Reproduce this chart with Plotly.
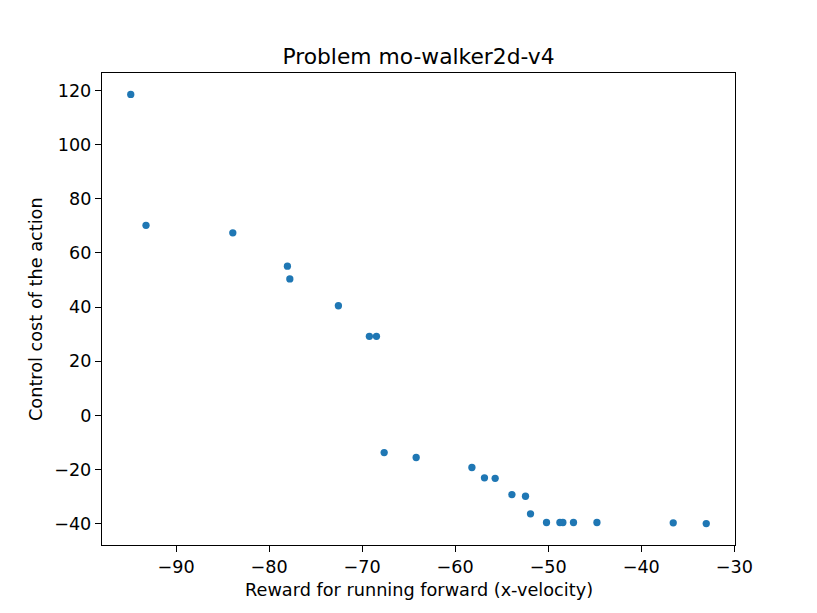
import plotly.graph_objects as go

reward_forward = [-94.87, -93.23, -83.90, -78.03, -77.77, -72.55, -69.22, -68.46,
                  -67.63, -64.19, -58.20, -56.85, -55.70, -53.90, -52.44, -51.90,
                  -50.18, -48.74, -48.42, -47.28, -44.76, -36.56, -33.01]
control_cost = [118.5, 70.2, 67.4, 55.1, 50.4, 40.5, 29.2, 29.2,
                -13.7, -15.5, -19.2, -23.0, -23.2, -29.2, -29.8, -36.3,
                -39.5, -39.5, -39.5, -39.5, -39.5, -39.6, -39.9]

x_tick_vals = [-90, -80, -70, -60, -50, -40, -30]
x_tick_text = ["\u221290", "\u221280", "\u221270", "\u221260", "\u221250", "\u221240", "\u221230"]
y_tick_vals = [-40, -20, 0, 20, 40, 60, 80, 100, 120]
y_tick_text = ["\u221240", "\u221220", "0", "20", "40", "60", "80", "100", "120"]

# page has an 8px body margin; figure coordinates are page coordinates minus 8
W, H = 809, 605
L, R, T, B = 94, 727, 65, 537
FONT = "DejaVu Sans"

fig = go.Figure(go.Scatter(
    x=reward_forward, y=control_cost, mode="markers",
    marker=dict(color="#1f77b4", size=7.3, line=dict(width=0)),
))

axis_common = dict(
    showgrid=False, zeroline=False, showline=True, linecolor="black", linewidth=1.3,
    mirror=True, ticks="outside", ticklen=6, tickwidth=1.3, tickcolor="black",
    tickfont=dict(family=FONT, size=17.6, color="black"),
)

pw, ph = R - L, B - T
fig.update_layout(
    width=W, height=H,
    margin=dict(l=L, r=W - R, t=T, b=H - B),
    plot_bgcolor="white", paper_bgcolor="white",
    showlegend=False,
    title=dict(text="Problem mo-walker2d-v4", x=(L + R) / 2 / W, xanchor="center",
               y=1 - 48 / H, yanchor="middle",
               font=dict(family=FONT, size=21.8, color="black")),
    xaxis=dict(range=[-97.96, -29.92], tickvals=x_tick_vals, ticktext=x_tick_text,
               **axis_common),
    yaxis=dict(range=[-47.8, 126.4], tickvals=y_tick_vals, ticktext=y_tick_text,
               **axis_common),
    annotations=[
        dict(text="Reward for running forward (x-velocity)", xref="paper", yref="paper",
             x=0.5, y=(B - 582) / ph, xanchor="center", yanchor="middle", showarrow=False,
             font=dict(family=FONT, size=17.7, color="black")),
        dict(text="Control cost of the action", xref="paper", yref="paper",
             x=(28 - L) / pw, y=0.5, xanchor="center", yanchor="middle", showarrow=False,
             textangle=-90, font=dict(family=FONT, size=17.7, color="black")),
    ],
)

fig.write_html("out.html")
